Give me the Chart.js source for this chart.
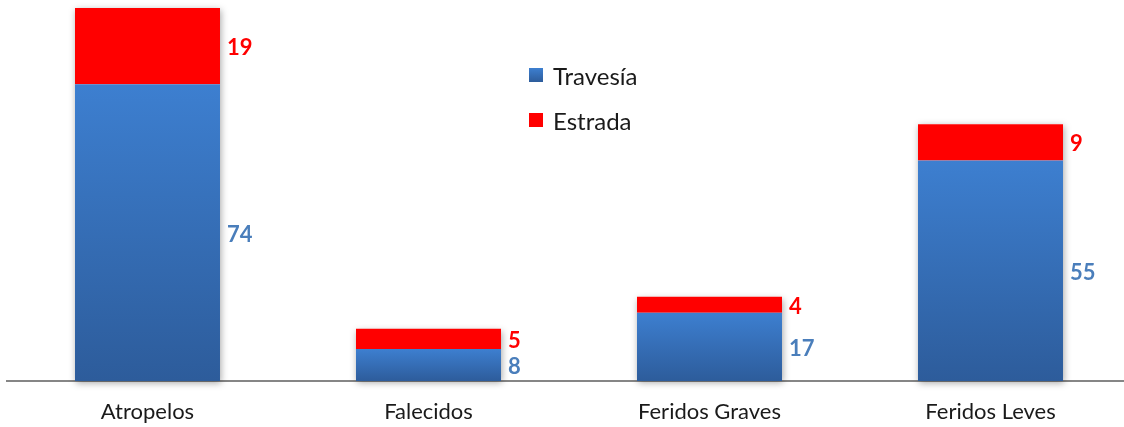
<!DOCTYPE html>
<html>
<head>
<meta charset="utf-8">
<script src="https://cdn.jsdelivr.net/npm/chart.js@4/dist/chart.umd.min.js"></script>
<style>
    html, body { margin: 0; padding: 0; background: #fff; overflow: hidden; }
    .wrap { position: relative; width: 1131px; height: 427px; }
    .legend { position: absolute; left: 529px; top: 59px; font: 24px Lato, "Open Sans", sans-serif; color: #1a1a1a; }
    .legend div { display: flex; align-items: center; height: 32px; margin-bottom: 13px; }
    .legend span.box { display: inline-block; width: 14px; height: 14px; margin-right: 10px; }
</style>
</head>
<body>
<div class="wrap">
    <canvas id="chart"></canvas>
    <div class="legend" id="legend"></div>
</div>
<script>
const categories = ['Atropelos', 'Falecidos', 'Feridos Graves', 'Feridos Leves'];
const seriesNames = ['Travesía', 'Estrada'];
const travesia = [74, 8, 17, 55];
const estrada = [19, 5, 4, 9];

const FONT = 'Lato, "Open Sans", sans-serif';
const BLUE_TOP = '#3d7fd0';
const BLUE_BOTTOM = '#2d5c9b';
const RED = '#ff0000';
const BLUE_TEXT = '#4a7ebb';

// vertical gradient per bar segment, light at top, dark at the base
function blueFill(ctx) {
    const chart = ctx.chart;
    const y = chart.scales.y;
    if (!y || ctx.raw === undefined) return BLUE_TOP;
    const top = y.getPixelForValue(ctx.raw);
    const bottom = y.getPixelForValue(0);
    if (!isFinite(top) || !isFinite(bottom) || top === bottom) return BLUE_TOP;
    const g = chart.ctx.createLinearGradient(0, top, 0, bottom);
    g.addColorStop(0, BLUE_TOP);
    g.addColorStop(1, BLUE_BOTTOM);
    return g;
}

// soft shadow behind each full stack
const stackShadow = {
    id: 'stackShadow',
    beforeDatasetsDraw(chart) {
        const c = chart.ctx;
        const base = chart.getDatasetMeta(0).data;
        const topMeta = chart.getDatasetMeta(chart.data.datasets.length - 1).data;
        c.save();
        c.shadowColor = 'rgba(0,0,0,0.35)';
        c.shadowBlur = 7;
        c.shadowOffsetX = 1;
        c.shadowOffsetY = 2;
        c.fillStyle = '#fff';
        base.forEach((el, i) => {
            const t = topMeta[i];
            c.fillRect(el.x - el.width / 2, t.y, el.width, el.base - t.y);
        });
        c.restore();
    }
};

// value labels to the right of each segment
const sideLabels = {
    id: 'sideLabels',
    afterDatasetsDraw(chart) {
        const c = chart.ctx;
        c.save();
        c.font = 'bold 22px ' + FONT;
        c.textAlign = 'left';
        c.textBaseline = 'middle';
        chart.data.datasets.forEach((ds, di) => {
            chart.getDatasetMeta(di).data.forEach((el, i) => {
                c.fillStyle = ds.labelColor;
                c.fillText(String(ds.data[i]), el.x + el.width / 2 + 7, (el.y + el.base) / 2 + 2);
            });
        });
        c.restore();
    }
};

const chart = new Chart(document.getElementById('chart'), {
    type: 'bar',
    data: {
        labels: categories,
        datasets: [
            { label: seriesNames[0], data: travesia, backgroundColor: blueFill, labelColor: BLUE_TEXT },
            { label: seriesNames[1], data: estrada, backgroundColor: RED, labelColor: RED },
        ],
    },
    options: {
        responsive: true,
        maintainAspectRatio: false,
        animation: false,
        layout: { padding: { left: 7, right: 0, top: 0, bottom: 0 } },
        datasets: { bar: { barPercentage: 1, categoryPercentage: 0.516, borderWidth: 0 } },
        plugins: { legend: { display: false }, tooltip: { enabled: false } },
        scales: {
            x: {
                stacked: true,
                grid: { display: false, drawTicks: false },
                border: { display: true, color: '#868686', width: 2 },
                ticks: { color: '#1a1a1a', padding: 18, font: { family: FONT, size: 22 } },
                afterFit(scale) { scale.height = 46; },
            },
            y: {
                stacked: true,
                display: false,
                min: 0,
                max: 95,
            },
        },
    },
    plugins: [stackShadow, sideLabels],
});

// legend, stacked vertically
const legend = document.getElementById('legend');
seriesNames.forEach((name, i) => {
    const row = document.createElement('div');
    const box = document.createElement('span');
    box.className = 'box';
    box.style.background = i === 0 ? `linear-gradient(${BLUE_TOP}, ${BLUE_BOTTOM})` : RED;
    row.appendChild(box);
    row.appendChild(document.createTextNode(name));
    legend.appendChild(row);
});
</script>
</body>
</html>
